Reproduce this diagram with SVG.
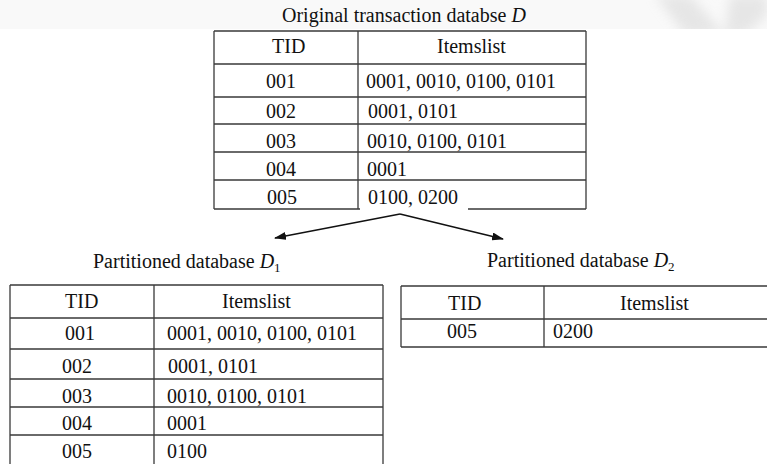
<svg xmlns="http://www.w3.org/2000/svg" width="767" height="464" viewBox="0 0 767 464">
<defs>
<style>
.t{font-family:"Liberation Serif","Times New Roman",serif;font-size:20px;fill:#111}
.i{font-style:italic}
.s{font-size:13px}
.g{stroke:#3a3a3a;stroke-width:1.3;fill:none}
.c{stroke:#111;stroke-width:1.5;fill:none}
</style>
<marker id="ah" viewBox="0 0 12 8" refX="11" refY="4" markerWidth="12" markerHeight="8" markerUnits="userSpaceOnUse" orient="auto">
<path d="M0,0 L12,4 L0,8 Z" fill="#111"/>
</marker>
<filter id="bl" x="-30%" y="-80%" width="160%" height="260%"><feGaussianBlur stdDeviation="6"/></filter>
<clipPath id="band"><rect x="0" y="0" width="767" height="29"/></clipPath>
</defs>
<rect width="767" height="464" fill="#fff"/>
<g id="watermark" clip-path="url(#band)">
<rect x="0" y="0" width="767" height="29" fill="#f9f9f9"/>
<g filter="url(#bl)" fill="#e0e0e0" opacity="0.75">
<path d="M655,-5 L690,-5 L725,35 L685,35 Z"/>
<path d="M730,-5 L767,-5 L767,15 L745,35 L725,35 Z"/>
</g>
</g>
<g id="title">
<text class="t" x="282" y="22">Original transaction databse <tspan class="i">D</tspan></text>
</g>
<g id="table-D">
<path class="g" d="M214,31 H586 M214,31 V209 M586,31 V209 M358,31 V209 M214,64 H586 M214,97 H586 M214,124 H586 M214,152 H586 M214,180 H586 M214,209 H360 M468,209 H586"/>
<text class="t" x="272" y="53">TID</text>
<text class="t" x="437" y="53">Itemslist</text>
<text class="t" x="266" y="88">001</text>
<text class="t" x="366" y="88">0001, 0010, 0100, 0101</text>
<text class="t" x="266" y="118">002</text>
<text class="t" x="368" y="118">0001, 0101</text>
<text class="t" x="266" y="148">003</text>
<text class="t" x="367" y="148">0010, 0100, 0101</text>
<text class="t" x="266" y="176">004</text>
<text class="t" x="367" y="176">0001</text>
<text class="t" x="267" y="204">005</text>
<text class="t" x="368" y="204">0100, 0200</text>
</g>
<g id="connectors">
<line class="c" x1="400" y1="214" x2="275" y2="238" marker-end="url(#ah)"/>
<line class="c" x1="400" y1="214" x2="503" y2="239" marker-end="url(#ah)"/>
</g>
<g id="label-D1">
<text class="t" x="93" y="268">Partitioned database <tspan class="i">D</tspan><tspan class="s" dy="4">1</tspan></text>
</g>
<g id="label-D2">
<text class="t" x="487" y="267">Partitioned database <tspan class="i">D</tspan><tspan class="s" dy="4">2</tspan></text>
</g>
<g id="table-D1">
<path class="g" d="M10,285 H383 M10,285 V464 M383,285 V464 M154,285 V464 M10,318 H383 M10,349 H383 M10,379 H383 M10,407 H383 M10,435 H383"/>
<text class="t" x="65" y="308">TID</text>
<text class="t" x="222" y="308">Itemslist</text>
<text class="t" x="65" y="340">001</text>
<text class="t" x="167" y="340">0001, 0010, 0100, 0101</text>
<text class="t" x="62" y="373">002</text>
<text class="t" x="168" y="373">0001, 0101</text>
<text class="t" x="62" y="403">003</text>
<text class="t" x="167" y="403">0010, 0100, 0101</text>
<text class="t" x="62" y="430">004</text>
<text class="t" x="167" y="430">0001</text>
<text class="t" x="62" y="458">005</text>
<text class="t" x="167" y="458">0100</text>
</g>
<g id="table-D2">
<path class="g" d="M401,286 H767 M401,319 H767 M401,347 H767 M401,286 V347 M544,286 V347"/>
<text class="t" x="448" y="310">TID</text>
<text class="t" x="620" y="310">Itemslist</text>
<text class="t" x="447" y="338">005</text>
<text class="t" x="553" y="338">0200</text>
</g>
</svg>
